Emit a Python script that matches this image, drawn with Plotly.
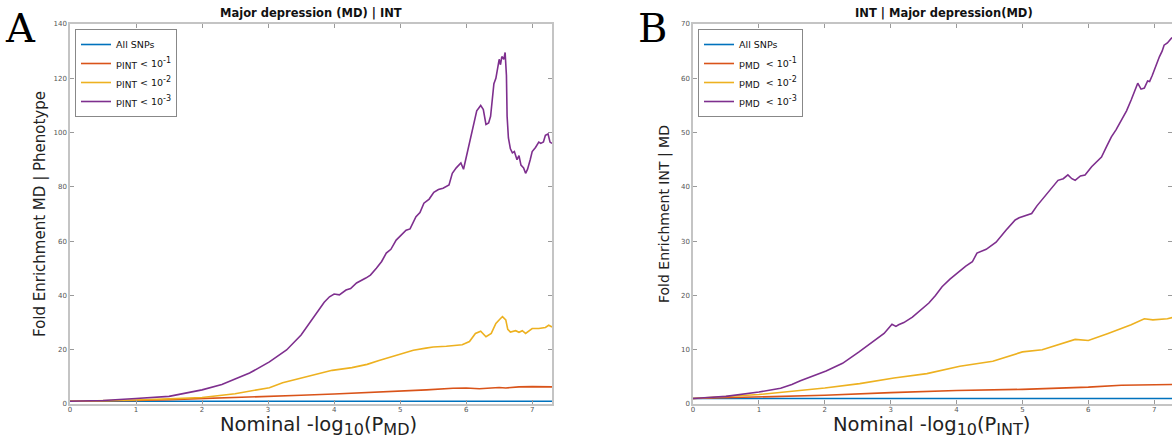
import plotly.graph_objects as go

# ---------------- Panel A: Major depression (MD) | INT ----------------
a_all_x = [0, 7.3]
a_all_y = [1, 1]

a_p1_x = [0, 0.5, 1, 1.5, 2, 2.5, 3, 3.5, 4, 4.5, 5, 5.4, 5.8, 6.0, 6.2, 6.35, 6.5, 6.6, 6.8, 7.0, 7.15, 7.3]
a_p1_y = [1, 1.1, 1.3, 1.6, 2.0, 2.3, 2.6, 3.2, 3.7, 4.2, 4.7, 5.2, 5.8, 5.9, 5.6, 5.8, 6.1, 5.9, 6.3, 6.4, 6.4, 6.3]

a_p2_x = [0, 0.5, 1.0, 1.5, 2.0, 2.5, 2.72, 3.02, 3.22, 3.52, 3.7, 3.97, 4.27, 4.5, 4.68, 4.85, 5.04,
          5.2, 5.39, 5.5, 5.7, 5.94, 6.05, 6.14, 6.22, 6.3, 6.38, 6.45, 6.52, 6.55, 6.6, 6.63, 6.67,
          6.75, 6.8, 6.85, 6.9, 6.95, 7.0, 7.1, 7.2, 7.25, 7.3]
a_p2_y = [1, 1.2, 1.5, 1.9, 2.4, 3.8, 4.8, 6.0, 7.8, 9.6, 10.8, 12.4, 13.4, 14.6, 16.0, 17.2, 18.8,
          19.8, 20.6, 21.0, 21.3, 21.8, 23.0, 26.0, 26.8, 24.8, 26.0, 29.7, 31.5, 32.2, 31.0, 27.5, 26.5,
          27.0, 26.4, 27.0, 26.0, 27.0, 27.8, 27.8, 28.2, 29.0, 28.4]

a_p3_x = [0, 0.5, 1.0, 1.5, 2.0, 2.3, 2.5, 2.72, 3.02, 3.28, 3.5, 3.73, 3.85, 3.93, 4.0, 4.08, 4.18,
          4.25, 4.34, 4.48, 4.55, 4.64, 4.72, 4.79, 4.86, 4.94, 5.0, 5.09, 5.15, 5.18, 5.24, 5.3, 5.36,
          5.44, 5.51, 5.58, 5.65, 5.74, 5.79, 5.85, 5.92, 5.96, 6.0, 6.04, 6.1, 6.16, 6.22, 6.26, 6.3,
          6.34, 6.37, 6.4, 6.42, 6.45, 6.48, 6.5, 6.52, 6.54, 6.57, 6.59, 6.61, 6.62, 6.64, 6.67, 6.7,
          6.73, 6.77, 6.8, 6.83, 6.87, 6.9, 6.93, 6.97, 7.0, 7.05, 7.1, 7.13, 7.17, 7.2, 7.24, 7.27, 7.3]
a_p3_y = [1, 1.3, 2.0, 2.8, 5.2, 7.2, 9.2, 11.4, 15.5, 19.9, 25.4, 33.5, 37.5, 39.5, 40.5, 40.2, 42,
          42.5, 44.6, 46.4, 47.5, 50, 52.5, 55.6, 57, 60.4, 62, 64, 64.5, 66, 69, 70.5, 74,
          75.5, 78, 79, 79.5, 80.7, 85, 87, 88.8, 86.5, 91, 94.7, 101, 108, 110, 108.5, 103,
          103.5, 106, 112, 118, 120, 124, 127, 125, 128, 127, 129.5, 121, 106, 98, 94, 92.5,
          93, 90, 91.5, 88, 87, 85, 86.5, 90, 93, 94.5, 96.5, 96, 96.5, 99, 99.5, 96.5, 96]

# ---------------- Panel B: INT | Major depression (MD) ----------------
b_all_x = [0, 7.3]
b_all_y = [1, 1]

b_p1_x = [0, 1, 2, 3, 4, 5, 6, 6.5, 7.2, 7.3]
b_p1_y = [1, 1.25, 1.6, 2.1, 2.5, 2.7, 3.1, 3.45, 3.6, 3.6]

b_p2_x = [0, 1.0, 2.0, 2.53, 3.05, 3.55, 4.05, 4.55, 5.0, 5.3, 5.8, 6.0, 6.3, 6.65, 6.85, 6.98, 7.2, 7.3]
b_p2_y = [1, 1.74, 2.96, 3.76, 4.8, 5.6, 6.95, 7.87, 9.6, 10.0, 11.9, 11.7, 13.0, 14.6, 15.7, 15.5, 15.7, 16.0]

b_p3_x = [0, 0.5, 1.0, 1.33, 1.5, 1.63, 2.02, 2.27, 2.52, 2.77, 2.9, 3.02, 3.08, 3.12, 3.2, 3.33, 3.45,
          3.58, 3.68, 3.78, 3.9, 4.04, 4.14, 4.24, 4.31, 4.45, 4.6, 4.75, 4.89, 4.95, 5.05, 5.14, 5.22,
          5.34, 5.44, 5.54, 5.62, 5.69, 5.75, 5.8, 5.88, 5.95, 6.05, 6.12, 6.2, 6.28, 6.35, 6.42, 6.5,
          6.58, 6.65, 6.7, 6.75, 6.8, 6.85, 6.9, 6.93, 6.97, 7.0, 7.04, 7.08, 7.12, 7.15, 7.2, 7.27]
b_p3_y = [1, 1.4, 2.2, 2.9, 3.6, 4.3, 6.1, 7.5, 9.6, 11.8, 13.0, 14.7, 14.3, 14.6, 15.0, 16.0, 17.2,
          18.6, 20.0, 21.6, 23.0, 24.4, 25.4, 26.2, 27.8, 28.5, 29.8, 32.0, 33.9, 34.3, 34.8, 35.1, 36.5,
          38.2, 39.8, 41.2, 41.5, 42.2, 41.5, 41.2, 42.0, 42.2, 43.7, 44.5, 45.5, 47.5, 49.2, 50.5, 52.3,
          54.0, 56.0, 57.5, 59.1, 58.0, 58.2, 59.5, 59.4, 60.5, 61.5, 62.5, 64.0, 65.0, 66.1, 66.5, 67.5]

SUBL = "<sub><span style='font-size:9px'>%s</span></sub>"
SUPL = "<sup><span style='font-size:8px'>%s</span></sup>"
a_names = ["All SNPs"] + ["p" + SUBL % "INT" + " < 10" + SUPL % s for s in ("-1", "-2", "-3")]
b_names = ["All SNPs"] + ["p" + SUBL % "MD" + "  < 10" + SUPL % s for s in ("-1", "-2", "-3")]
colors = ["#0072BD", "#D95319", "#EDB120", "#7E2F8E"]

SUBX = "<sub><span style='font-size:16px'>%s</span></sub>"
xtitle_a = "Nominal -log" + SUBX % "10" + "(P" + SUBX % "MD" + ")"
xtitle_b = "Nominal -log" + SUBX % "10" + "(P" + SUBX % "INT" + ")"

W, H = 1172, 440
FONT = "DejaVu Sans"

fig = go.Figure()

a_series = [(a_all_x, a_all_y), (a_p1_x, a_p1_y), (a_p2_x, a_p2_y), (a_p3_x, a_p3_y)]
b_series = [(b_all_x, b_all_y), (b_p1_x, b_p1_y), (b_p2_x, b_p2_y), (b_p3_x, b_p3_y)]

for (x, y), name, c in zip(a_series, a_names, colors):
    fig.add_trace(go.Scatter(x=x, y=y, mode="lines", name=name, line=dict(color=c, width=1.6),
                             xaxis="x", yaxis="y", legend="legend"))
for (x, y), name, c in zip(b_series, b_names, colors):
    fig.add_trace(go.Scatter(x=x, y=y, mode="lines", name=name, line=dict(color=c, width=1.6),
                             xaxis="x2", yaxis="y2", legend="legend2"))

def px_x(p):
    return p / W

def px_y(p):
    return 1 - p / H

axis_common = dict(showgrid=False, zeroline=False, showline=True, linecolor="#c4c4c4", linewidth=1.5,
                   mirror="ticks", ticks="inside", ticklen=4, tickcolor="#9a9a9a", tickwidth=1,
                   tickfont=dict(family=FONT, size=7, color="#555555"))

xdomA = [px_x(70), px_x(552)]
xdomB = [px_x(693), 1.0]
ydom = [px_y(404), px_y(24)]

fig.update_layout(
    width=W, height=H, margin=dict(l=0, r=0, t=0, b=0),
    paper_bgcolor="white", plot_bgcolor="white",
    font=dict(family=FONT, color="#222222"),
    xaxis=dict(domain=xdomA, range=[0, 7.3], tickvals=[0, 1, 2, 3, 4, 5, 6, 7], anchor="y",
               automargin=False, ticklabelstandoff=-2, **axis_common),
    yaxis=dict(domain=ydom, range=[0, 140], tickvals=[0, 20, 40, 60, 80, 100, 120, 140], anchor="x",
               title=dict(text="Fold Enrichment MD | Phenotype", font=dict(size=15, family=FONT), standoff=4),
               automargin=False, **axis_common),
    xaxis2=dict(domain=xdomB, range=[0, 7.27], tickvals=[0, 1, 2, 3, 4, 5, 6, 7], anchor="y2",
                automargin=False, ticklabelstandoff=-2, **axis_common),
    yaxis2=dict(domain=ydom, range=[0, 70], tickvals=[0, 10, 20, 30, 40, 50, 60, 70], anchor="x2",
                title=dict(text="Fold Enrichment INT | MD", font=dict(size=14, family=FONT), standoff=8),
                automargin=False, **axis_common),
    legend=dict(x=px_x(75), y=px_y(29), xanchor="left", yanchor="top", bgcolor="white",
                bordercolor="#888888", borderwidth=1, font=dict(family=FONT, size=9.5, color="#111111"),
                itemwidth=30, tracegroupgap=0),
    legend2=dict(x=px_x(698), y=px_y(29), xanchor="left", yanchor="top", bgcolor="white",
                 bordercolor="#888888", borderwidth=1, font=dict(family=FONT, size=9.5, color="#111111"),
                 itemwidth=30, tracegroupgap=0),
    showlegend=True,
)

annotations = [
    dict(text="<b>Major depression (MD) | INT</b>", x=px_x(311), y=px_y(13),
         xref="paper", yref="paper", showarrow=False, font=dict(family=FONT, size=11.5, color="#111111"),
         xanchor="center", yanchor="middle"),
    dict(text="<b>INT | Major depression(MD)</b>", x=px_x(944), y=px_y(13),
         xref="paper", yref="paper", showarrow=False, font=dict(family=FONT, size=11.5, color="#111111"),
         xanchor="center", yanchor="middle"),
    dict(text=xtitle_a, x=px_x(318), y=0, xref="paper", yref="paper", showarrow=False,
         font=dict(family=FONT, size=19.5, color="#222222"), xanchor="center", yanchor="bottom",
         borderpad=0),
    dict(text=xtitle_b, x=px_x(932), y=0, xref="paper", yref="paper", showarrow=False,
         font=dict(family=FONT, size=19.5, color="#222222"), xanchor="center", yanchor="bottom",
         borderpad=0),
    dict(text="A", x=px_x(3), y=px_y(3), xref="paper", yref="paper", showarrow=False,
         font=dict(family="DejaVu Serif", size=40, color="#000000"), xanchor="left", yanchor="top"),
    dict(text="B", x=px_x(636), y=px_y(3), xref="paper", yref="paper", showarrow=False,
         font=dict(family="DejaVu Serif", size=40, color="#000000"), xanchor="left", yanchor="top"),
]
fig.update_layout(annotations=annotations)

fig.write_html("out.html")
